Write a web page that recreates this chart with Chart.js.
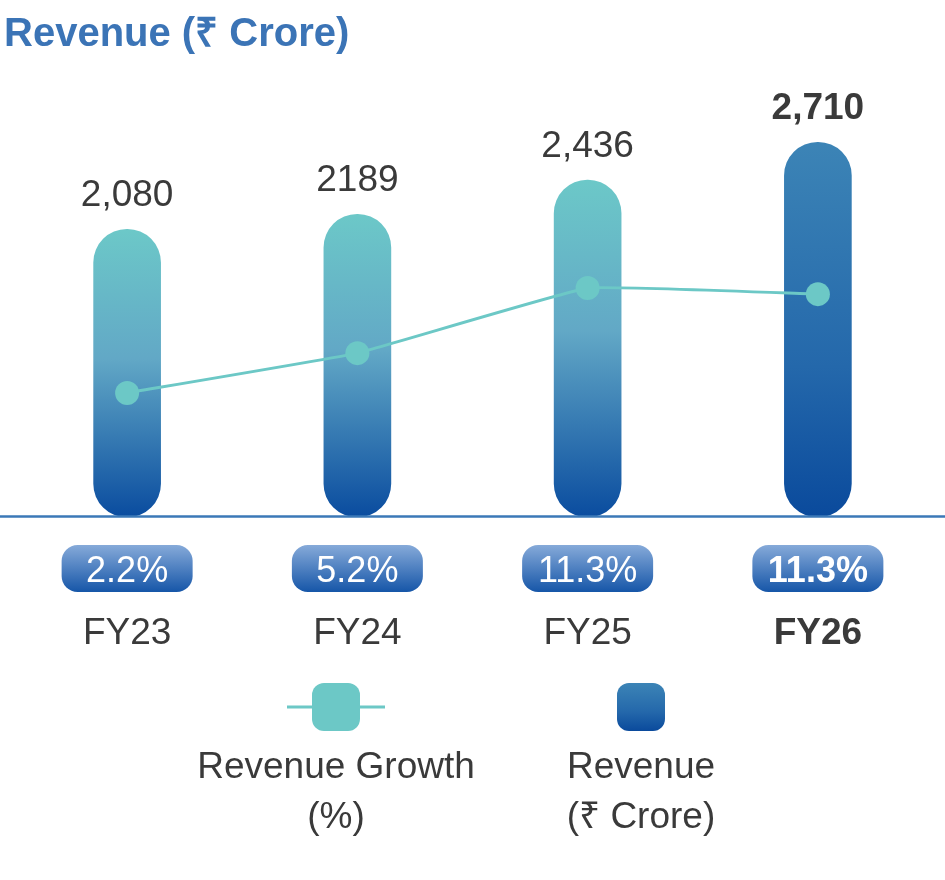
<!DOCTYPE html>
<html>
<head>
<meta charset="utf-8">
<script src="https://cdn.jsdelivr.net/npm/chart.js@4"></script>
<style>
  html, body { margin: 0; padding: 0; background: #fff; }
  canvas { display: block; }
</style>
</head>
<body>
<canvas id="chart-revenue" width="945" height="880"></canvas>
<script>
const categories = ["FY23", "FY24", "FY25", "FY26"];
const revenue = [2080, 2189, 2436, 2710];
const revenueLabels = ["2,080", "2189", "2,436", "2,710"];
const growthLabels = ["2.2%", "5.2%", "11.3%", "11.3%"];
// height of the growth markers as drawn in the picture, on a hidden 0-100 axis
const growthMarker = [28.4, 37.5, 52.4, 51.0];
const highlight = 3; // FY26 is the bold / dark one

const FONT = "'Liberation Sans', Arial, Helvetica, sans-serif";
const TEXT = "#3a3a3a";
const TEAL = "#6cc8c6";

function roundRect(ctx, x, y, w, h, r) {
  ctx.beginPath();
  ctx.moveTo(x + r, y);
  ctx.arcTo(x + w, y, x + w, y + h, r);
  ctx.arcTo(x + w, y + h, x, y + h, r);
  ctx.arcTo(x, y + h, x, y, r);
  ctx.arcTo(x, y, x + w, y, r);
  ctx.closePath();
}

function barGradient(ctx, top, bottom, dark) {
  const g = ctx.createLinearGradient(0, top, 0, bottom);
  if (dark) {
    g.addColorStop(0, "#3c84b6");
    g.addColorStop(0.6, "#2468ab");
    g.addColorStop(1, "#0a4a9c");
  } else {
    g.addColorStop(0, "#6cc8c8");
    g.addColorStop(0.45, "#62a8c6");
    g.addColorStop(1, "#0a4c9f");
  }
  return g;
}

// everything that is not a bar or the line: title, labels, badges, legend
const decorations = {
  id: "decorations",
  afterDatasetsDraw(chart) {
    const ctx = chart.ctx;
    const x = chart.scales.x;
    const y = chart.scales.y;
    const y0 = y.getPixelForValue(0);

    ctx.save();

    // baseline
    ctx.strokeStyle = "#3b78b7";
    ctx.lineWidth = 2.5;
    ctx.beginPath();
    ctx.moveTo(0, y0 - 0.5);
    ctx.lineTo(chart.width, y0 - 0.5);
    ctx.stroke();

    // title
    ctx.fillStyle = "#3b74b6";
    ctx.font = "bold 40px " + FONT;
    ctx.textAlign = "left";
    ctx.textBaseline = "alphabetic";
    ctx.fillText("Revenue (₹ Crore)", 4, 46);

    ctx.textAlign = "center";
    const bars = chart.getDatasetMeta(1).data;
    categories.forEach((cat, i) => {
      const cx = x.getPixelForValue(i);
      const bold = i === highlight ? "bold " : "";

      // value above bar
      ctx.fillStyle = TEXT;
      ctx.font = bold + "37px " + FONT;
      ctx.fillText(revenueLabels[i], cx, bars[i].y - 23);

      // growth badge
      const bw = 131, bh = 47;
      const bx = cx - bw / 2, by = y0 + 28;
      const g = ctx.createLinearGradient(0, by, 0, by + bh);
      g.addColorStop(0, "#86aad9");
      g.addColorStop(1, "#1656a8");
      ctx.fillStyle = g;
      roundRect(ctx, bx, by, bw, bh, 16);
      ctx.fill();
      ctx.fillStyle = "#ffffff";
      ctx.font = bold + "36px " + FONT;
      ctx.fillText(growthLabels[i], cx, by + 37);

      // category label
      ctx.fillStyle = TEXT;
      ctx.font = bold + "37px " + FONT;
      ctx.fillText(cat, cx, y0 + 127);
    });

    // legend
    const ly = 707;
    ctx.strokeStyle = TEAL;
    ctx.lineWidth = 3;
    ctx.beginPath();
    ctx.moveTo(287, ly);
    ctx.lineTo(385, ly);
    ctx.stroke();
    ctx.fillStyle = TEAL;
    roundRect(ctx, 312, ly - 24, 48, 48, 12);
    ctx.fill();

    ctx.fillStyle = barGradient(ctx, ly - 24, ly + 24, true);
    roundRect(ctx, 617, ly - 24, 48, 48, 12);
    ctx.fill();

    ctx.fillStyle = TEXT;
    ctx.font = "37px " + FONT;
    ctx.fillText("Revenue Growth", 336, 778);
    ctx.fillText("(%)", 336, 828);
    ctx.fillText("Revenue", 641, 778);
    ctx.fillText("(₹ Crore)", 641, 828);

    ctx.restore();
  },
};

new Chart("chart-revenue", {
  type: "bar",
  data: {
    labels: categories,
    datasets: [
      {
        type: "line",
        label: "Revenue Growth (%)",
        data: growthMarker,
        yAxisID: "y2",
        order: 0,
        borderColor: TEAL,
        borderWidth: 3,
        tension: 0.08,
        pointRadius: 12,
        pointBackgroundColor: TEAL,
        pointBorderColor: TEAL,
        pointBorderWidth: 0,
      },
      {
        label: "Revenue (₹ Crore)",
        data: revenue,
        yAxisID: "y",
        order: 1,
        barThickness: 67,
        borderRadius: 34,
        borderSkipped: false,
        backgroundColor: (context) => {
          const chart = context.chart;
          const y = chart.scales.y;
          if (!chart.chartArea || !y || context.type !== "data") return "#3a82b5";
          const top = y.getPixelForValue(context.raw);
          const bottom = y.getPixelForValue(0);
          return barGradient(chart.ctx, top, bottom, context.dataIndex === highlight);
        },
      },
    ],
  },
  options: {
    responsive: false,
    animation: false,
    layout: {
      padding: { left: 12, right: 12, top: 80, bottom: 363 },
    },
    plugins: {
      legend: { display: false },
      tooltip: { enabled: false },
    },
    scales: {
      x: { display: false, offset: true },
      y: { display: false, min: 0, max: 3160 },
      y2: { display: false, min: 0, max: 100 },
    },
  },
  plugins: [decorations],
});
</script>
</body>
</html>
